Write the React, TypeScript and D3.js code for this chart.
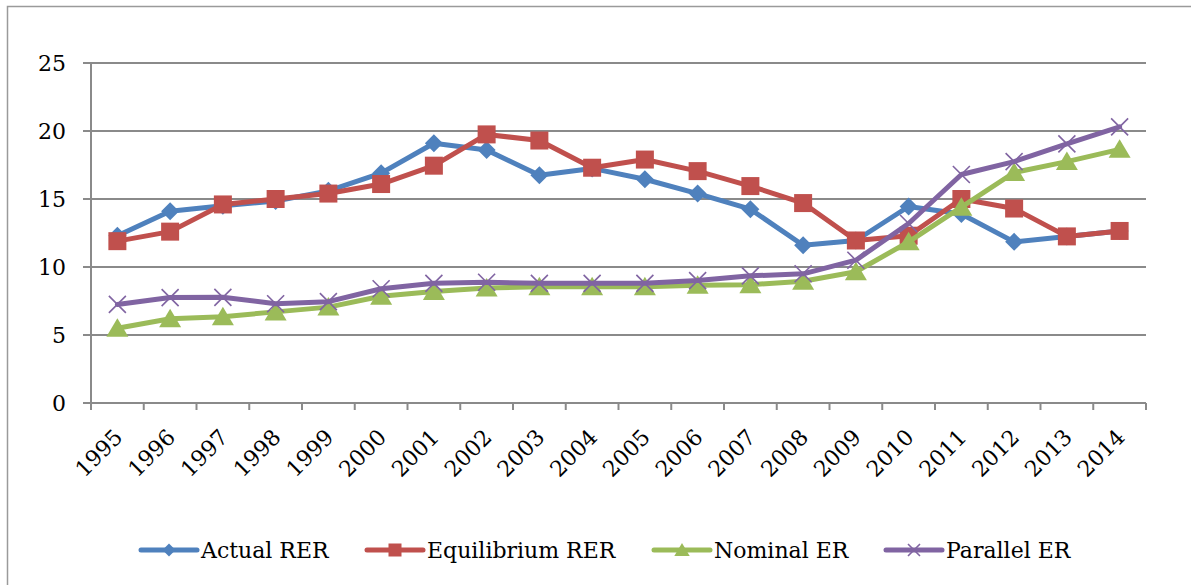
import React from "react";
import * as d3 from "d3";

const years = ["1995","1996","1997","1998","1999","2000","2001","2002","2003","2004","2005","2006","2007","2008","2009","2010","2011","2012","2013","2014"];
const actualRER = [12.3, 14.1, 14.5, 14.85, 15.6, 16.9, 19.1, 18.6, 16.75, 17.25, 16.45, 15.4, 14.25, 11.6, 11.95, 14.45, 13.9, 11.85, 12.25, 12.65];
const equilibriumRER = [11.9, 12.6, 14.6, 15.0, 15.4, 16.1, 17.45, 19.75, 19.3, 17.3, 17.9, 17.05, 15.95, 14.7, 11.95, 12.3, 15.0, 14.3, 12.25, 12.65];
const nominalER = [5.5, 6.2, 6.35, 6.7, 7.05, 7.85, 8.2, 8.45, 8.55, 8.55, 8.55, 8.65, 8.7, 8.95, 9.65, 11.85, 14.4, 16.95, 17.75, 18.65];
const parallelER = [7.25, 7.75, 7.77, 7.3, 7.45, 8.4, 8.8, 8.88, 8.8, 8.8, 8.8, 9.0, 9.35, 9.5, 10.5, 13.2, 16.8, 17.75, 19.05, 20.3];
const yTicks = [0, 5, 10, 15, 20, 25];
const seriesNames = ["Actual RER", "Equilibrium RER", "Nominal ER", "Parallel ER"];

const colors = ["#4F81BD", "#C0504D", "#9BBB59", "#8064A2"];
const markerTypes = ["diamond", "square", "triangle", "x"];
const seriesValues = [actualRER, equilibriumRER, nominalER, parallelER];
const legendX = [141, 367, 654, 886];

const FONT = "'DejaVu Serif', serif";
const GRID = "#8a8a8a";

function Marker({ type, x, y, s, color }: { type: string; x: number; y: number; s: number; color: string }) {
  if (type === "diamond") {
    const h = s / 2;
    return <path d={`M${x},${y - h}L${x + h},${y}L${x},${y + h}L${x - h},${y}Z`} fill={color} />;
  }
  if (type === "square") {
    return <rect x={x - s / 2} y={y - s / 2} width={s} height={s} fill={color} />;
  }
  if (type === "triangle") {
    const h = s / 2;
    return <path d={`M${x},${y - h}L${x + h * 1.1},${y + h * 0.85}L${x - h * 1.1},${y + h * 0.85}Z`} fill={color} />;
  }
  const h = s / 2;
  return (
    <path d={`M${x - h},${y - h}L${x + h},${y + h}M${x - h},${y + h}L${x + h},${y - h}`} stroke={color} strokeWidth={1.6} fill="none" />
  );
}

export default function App() {
  const W = 1191, H = 585;
  const x = d3.scaleBand<string>().domain(years).range([91, 1146]).paddingInner(0).paddingOuter(0);
  const bw = x.bandwidth();
  const cx = (d: string) => (x(d) as number) + bw / 2;
  const y = d3.scaleLinear().domain([0, 25]).range([403, 63]);
  const line = d3.line<number>().x((_, i) => cx(years[i])).y((v) => y(v));
  const markerSize = [18, 18, 20, 17];
  const legendMarkerSize = [13, 13, 14, 12];

  const boundaries = years.map((d) => x(d) as number).concat([1146]);

  return (
    <svg width={W} height={H} style={{ position: "absolute", left: 0, top: 0, background: "#fff" }}>
      <rect x={7.5} y={6.5} width={1300} height={700} fill="#fff" stroke="#9a9a9a" strokeWidth={1.5} />
      {yTicks.filter((t) => t > 0).map((t) => (
        <line key={"g" + t} x1={91} x2={1146} y1={y(t)} y2={y(t)} stroke={GRID} strokeWidth={2} />
      ))}
      <line x1={91} x2={91} y1={y(25)} y2={y(0) + 7} stroke={GRID} strokeWidth={2} />
      {yTicks.map((t) => (
        <g key={"yt" + t}>
          <line x1={83} x2={91} y1={y(t)} y2={y(t)} stroke={GRID} strokeWidth={2} />
          <text x={66} y={y(t)} dy="0.36em" textAnchor="end" fontFamily={FONT} fontSize={22} fill="#000">
            {t}
          </text>
        </g>
      ))}
      <line x1={91} x2={1146} y1={y(0)} y2={y(0)} stroke={GRID} strokeWidth={2} />
      {boundaries.map((b, i) => (
        <line key={"xt" + i} x1={b} x2={b} y1={y(0)} y2={y(0) + 7} stroke={GRID} strokeWidth={2} />
      ))}
      {years.map((d) => (
        <text
          key={"xl" + d}
          transform={`translate(${cx(d) + 1},${433}) rotate(-45)`}
          textAnchor="end"
          dy="0.36em"
          fontFamily={FONT}
          fontSize={22}
          fill="#000"
        >
          {d}
        </text>
      ))}
      {seriesValues.map((vals, si) => (
        <g key={"s" + si}>
          <path d={line(vals) as string} fill="none" stroke={colors[si]} strokeWidth={5} strokeLinejoin="round" strokeLinecap="round" />
          {vals.map((v, i) => (
            <Marker key={i} type={markerTypes[si]} x={cx(years[i])} y={y(v)} s={markerSize[si]} color={colors[si]} />
          ))}
        </g>
      ))}
      {seriesNames.map((name, si) => (
        <g key={"lg" + si}>
          <line x1={legendX[si]} x2={legendX[si] + 56} y1={550} y2={550} stroke={colors[si]} strokeWidth={5} strokeLinecap="round" />
          <Marker type={markerTypes[si]} x={legendX[si] + 28} y={550} s={legendMarkerSize[si]} color={colors[si]} />
          <text x={legendX[si] + 60} y={550} dy="0.36em" fontFamily={FONT} fontSize={22} fill="#000">
            {name}
          </text>
        </g>
      ))}
    </svg>
  );
}
